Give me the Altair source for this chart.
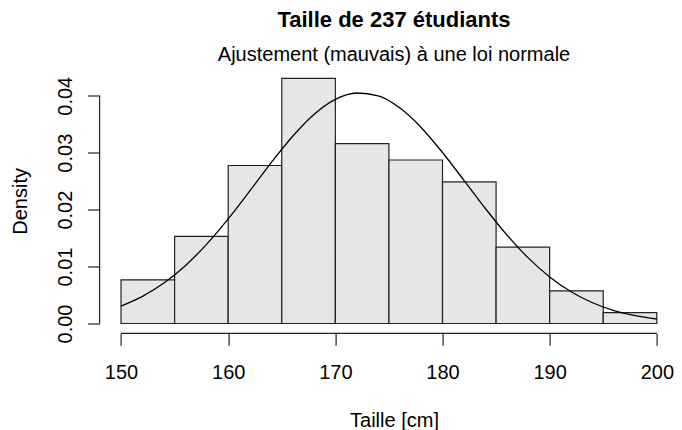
import altair as alt
import pandas as pd

# ---- data ----
bin_start = [150, 155, 160, 165, 170, 175, 180, 185, 190, 195]
bin_end = [155, 160, 165, 170, 175, 180, 185, 190, 195, 200]
density = [0.00766, 0.01531, 0.02775, 0.04306, 0.03158, 0.02871, 0.02488, 0.01340, 0.00574, 0.00191]

curve_x = [150, 152, 154, 156, 158, 160, 162, 164, 166, 168, 170, 172, 174,
           176, 178, 180, 182, 184, 186, 188, 190, 192, 194, 196, 198, 200]
curve_y = [0.00306, 0.00476, 0.00710, 0.01016, 0.01395, 0.01838, 0.02324, 0.02821,
           0.03284, 0.03670, 0.03935, 0.04048, 0.03997, 0.03787, 0.03443, 0.03003,
           0.02514, 0.02020, 0.01557, 0.01152, 0.00818, 0.00557, 0.00364, 0.00228,
           0.00137, 0.00079]

x_ticks = [150, 160, 170, 180, 190, 200]
y_ticks = [0.00, 0.01, 0.02, 0.03, 0.04]

title_text = "Taille de 237 étudiants"
subtitle_text = "Ajustement (mauvais) à une loi normale"
x_label = "Taille [cm]"
y_label = "Density"

FONT = "Liberation Sans"
PAD_L = 91.6
W = 565.8
H = 264.8
CX = 394 - 8 - PAD_L   # horizontal centre of titles, in plot coordinates

bars_df = pd.DataFrame({"start": bin_start, "end": bin_end, "density": density})
curve_df = pd.DataFrame({"x": curve_x, "y": curve_y})

xscale = alt.Scale(domain=[148, 200.8], nice=False, zero=False)
yscale = alt.Scale(domain=[-0.00172, 0.04478], nice=False, zero=False)

xaxis = alt.Axis(values=x_ticks, format="d", title=x_label, titleX=CX, titleY=92.7,
                 titleAlign="center", titleBaseline="alphabetic", titleAngle=0,
                 labelBaseline="alphabetic", labelPadding=32.7, labelAlign="center",
                 labelFlush=False, labelOverlap=False)
yaxis = alt.Axis(values=y_ticks, format=".2f", title=y_label, titleX=26 - 8 - PAD_L, titleY=132.4,
                 titleAngle=270, titleAlign="center", titleBaseline="alphabetic",
                 labelAngle=270, labelAlign="center", labelBaseline="alphabetic",
                 labelPadding=16.4, labelFlush=False, labelOverlap=False)

bars = alt.Chart(bars_df).mark_rect(fill="#E6E6E6", stroke="#222222", strokeWidth=1.2).encode(
    x=alt.X("start:Q", scale=xscale, axis=xaxis),
    x2="end:Q",
    y=alt.Y("density:Q", scale=yscale, axis=yaxis),
    y2=alt.datum(0),
)

curve = alt.Chart(curve_df).mark_line(color="black", strokeWidth=1.3, interpolate="monotone").encode(
    x=alt.X("x:Q", scale=xscale),
    y=alt.Y("y:Q", scale=yscale),
)

x_line = alt.Chart(pd.DataFrame({"a": [x_ticks[0]], "b": [x_ticks[-1]]})).mark_rule(
    color="#222222", strokeWidth=1.2).encode(
    x=alt.X("a:Q", scale=xscale), x2="b:Q", y=alt.value(H))

y_line = alt.Chart(pd.DataFrame({"a": [y_ticks[0]], "b": [y_ticks[-1]]})).mark_rule(
    color="#222222", strokeWidth=1.2).encode(
    y=alt.Y("a:Q", scale=yscale), y2="b:Q", x=alt.value(0))

title = alt.Chart(pd.DataFrame({"t": [title_text]})).mark_text(
    font=FONT, fontSize=22, fontWeight="bold", color="black", align="center",
    baseline="alphabetic").encode(text="t:N", x=alt.value(CX), y=alt.value(-41.5))

subtitle = alt.Chart(pd.DataFrame({"t": [subtitle_text]})).mark_text(
    font=FONT, fontSize=20, color="black", align="center",
    baseline="alphabetic").encode(text="t:N", x=alt.value(CX), y=alt.value(-7.5))

chart = alt.layer(bars, curve, x_line, y_line, title, subtitle).properties(
    width=W, height=H,
    autosize=alt.AutoSizeParams(type="none"),
    padding={"left": PAD_L, "top": 60.5, "right": 8.6, "bottom": 96.7},
).configure_view(stroke=None).configure_axis(
    grid=False, domain=False, tickColor="#222222", tickWidth=1.2, tickSize=12,
    labelFont=FONT, labelFontSize=20, labelColor="black",
    titleFont=FONT, titleFontSize=20, titleFontWeight="normal", titleColor="black",
)

chart.save("out.html", embed_options={"renderer": "svg", "actions": False})
